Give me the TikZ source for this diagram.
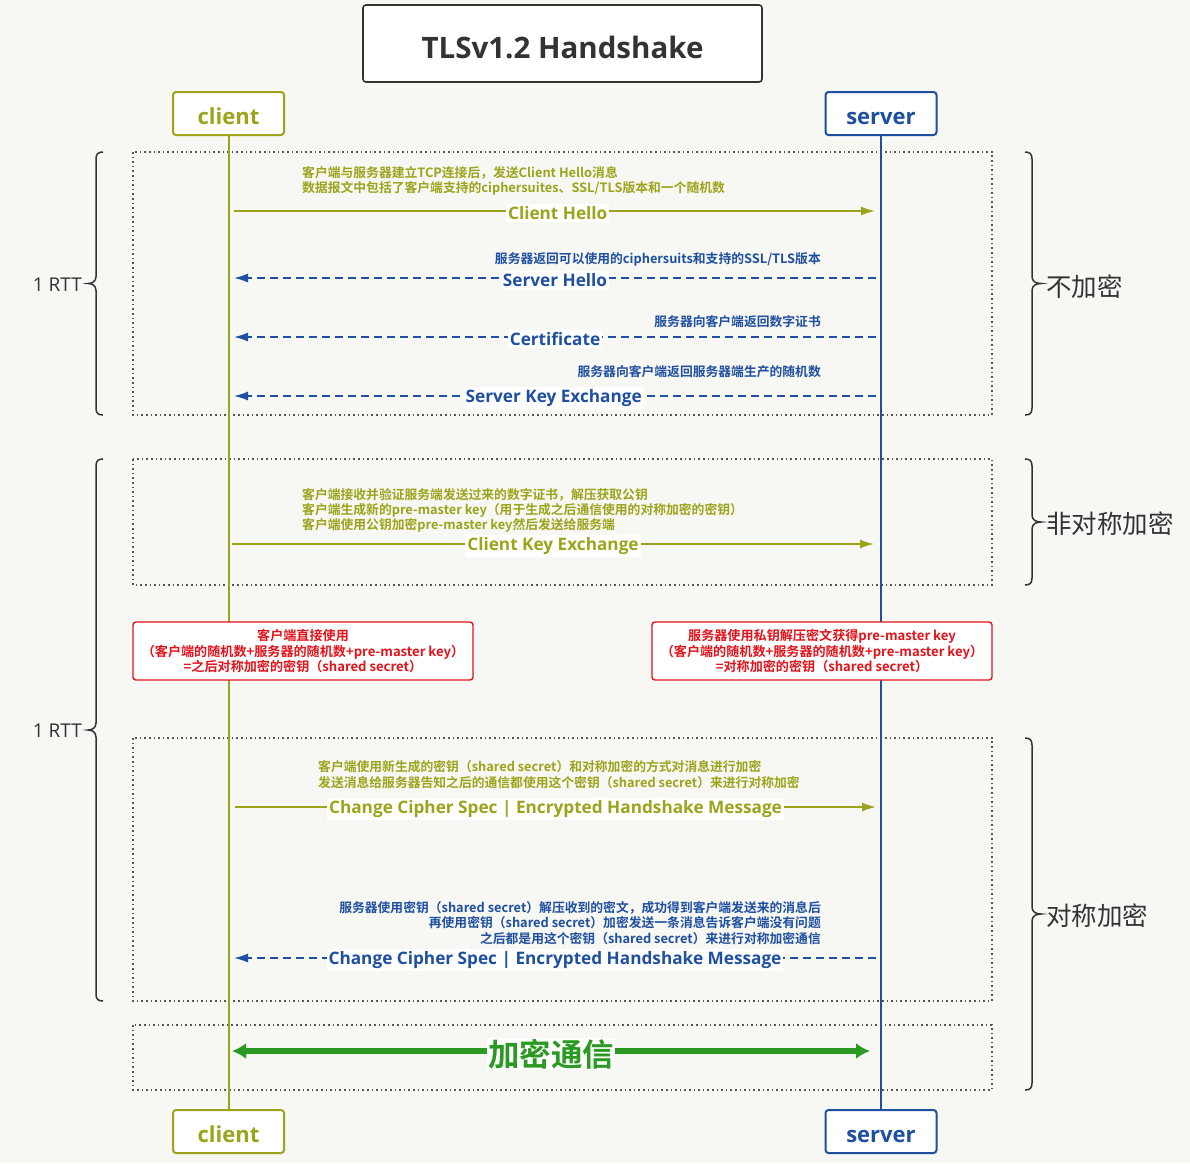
\documentclass[tikz,border=0pt]{standalone}
\usepackage{fontspec}
\setmainfont{Open Sans}
\newfontfamily\cjk{Noto Sans CJK SC}[BoldFont={Noto Sans CJK SC Bold}]
\usetikzlibrary{arrows.meta}
\definecolor{bgc}{HTML}{F7F7F4}
\definecolor{cli}{HTML}{9BA41B}
\definecolor{srv}{HTML}{1F4FA0}
\definecolor{redc}{HTML}{E3131B}
\definecolor{grn}{HTML}{2B9A22}
\definecolor{frm}{HTML}{555555}
\definecolor{ink}{HTML}{333333}
\newcommand{\BrL}[3]{% x of tip, top y, bottom y
  \draw[brc] (#1+15,#2) .. controls (#1+10,#2) and (#1+8,#2+2) .. (#1+8,#2+7)
    -- (#1+8,{(#2+#3)/2-7}) .. controls (#1+8,{(#2+#3)/2-2}) and (#1+4,{(#2+#3)/2}) .. (#1,{(#2+#3)/2})
    .. controls (#1+4,{(#2+#3)/2}) and (#1+8,{(#2+#3)/2+2}) .. (#1+8,{(#2+#3)/2+7})
    -- (#1+8,#3-7) .. controls (#1+8,#3-2) and (#1+10,#3) .. (#1+15,#3);}
\newcommand{\BrR}[3]{% x of tip, top y, bottom y
  \draw[brc] (#1-16,#2) .. controls (#1-11,#2) and (#1-9,#2+2) .. (#1-9,#2+7)
    -- (#1-9,{(#2+#3)/2-7}) .. controls (#1-9,{(#2+#3)/2-2}) and (#1-5,{(#2+#3)/2}) .. (#1,{(#2+#3)/2})
    .. controls (#1-5,{(#2+#3)/2}) and (#1-9,{(#2+#3)/2+2}) .. (#1-9,{(#2+#3)/2+7})
    -- (#1-9,#3-7) .. controls (#1-9,#3-2) and (#1-11,#3) .. (#1-16,#3);}
\tikzset{
  lifebox/.style={draw, line width=2pt, fill=white, rounded corners=3pt, minimum width=111pt, minimum height=43pt, inner sep=0pt, text height=23pt, text depth=1pt, font=\fontsize{22}{26}\selectfont\bfseries},
  clibox/.style={lifebox, draw=cli, text=cli},
  srvbox/.style={lifebox, draw=srv, text=srv},
  titlebox/.style={draw=ink, line width=1.6pt, fill=white, rounded corners=3pt, minimum width=399pt, minimum height=77pt, inner sep=0pt, text height=30pt, text depth=1pt, font=\fontsize{29.5}{34}\selectfont\bfseries, text=ink},
  dotbox/.style={draw=frm, line width=1.6pt, dash pattern=on 1.6pt off 3pt},
  climsg/.style={draw=cli, line width=1.6pt, -{Latex[length=14pt,width=9pt]}},
  srvmsg/.style={draw=srv, line width=1.5pt, dash pattern=on 8pt off 5pt, -{Latex[length=14pt,width=9pt]}},
  lbl/.style={fill=white, inner sep=2pt, yshift=-2pt, font=\fontsize{17.2}{20}\selectfont\bfseries},
  anno/.style={font=\cjk\bfseries\fontsize{12.8}{15.2}\selectfont, inner sep=0pt},
  redbox/.style={draw=redc, line width=1.4pt, fill=white, rounded corners=3pt, minimum width=340pt, minimum height=58pt, text=redc, align=center, inner sep=0pt, font=\cjk\bfseries\fontsize{13.1}{15.5}\selectfont},
  brc/.style={draw=ink, line width=1.5pt},
  side/.style={font=\cjk\fontsize{25.5}{30}\selectfont, text=ink, anchor=west, inner sep=0pt},
  rtt/.style={font=\fontsize{19}{22}\selectfont, text=ink, anchor=east, inner sep=0pt},
  life/.style={line width=2pt},
  bigmsg/.style={draw=grn, line width=6pt, {Latex[length=14pt,width=16pt]}-{Latex[length=14pt,width=16pt]}}
}
\begin{document}
\begin{tikzpicture}[x=1pt,y=-1pt]
\useasboundingbox (0,0) rectangle (1190,1163);
\fill[bgc] (0,0) rectangle (1190,1163);

% frames
\draw[dotbox] (133,152) rectangle (992,415);
\draw[dotbox] (133,459) rectangle (992,585);
\draw[dotbox] (133,738) rectangle (992,1001);
\draw[dotbox] (133,1025) rectangle (992,1090);

% title and participants
\node[titlebox] (title) at (562.5,43.5) {TLSv1.2 Handshake};
\node[clibox] (ct) at (228.5,113.5) {client};
\node[srvbox] (st) at (881,113.5) {server};
\node[clibox] (cb) at (228.5,1131.5) {client};
\node[srvbox] (sb) at (881,1131.5) {server};
\draw[life, cli] (ct.south) -- (cb.north);
\draw[life, srv, line width=1.5pt] (st.south) -- (sb.north);

% red boxes
\node[redbox] (rl) at (303,651) {客户端直接使用\\（客户端的随机数+服务器的随机数+pre-master key）\\=之后对称加密的密钥（shared secret）};
\node[redbox] (rr) at (822,651) {服务器使用私钥解压密文获得pre-master key\\（客户端的随机数+服务器的随机数+pre-master key）\\=对称加密的密钥（shared secret）};

% message endpoints
\coordinate (c1) at (234,211); \coordinate (s1) at (875,211);
\coordinate (c2) at (234,278); \coordinate (s2) at (876,278);
\coordinate (c3) at (234,337); \coordinate (s3) at (876,337);
\coordinate (c4) at (234,396); \coordinate (s4) at (876,396);
\coordinate (c5) at (232,544); \coordinate (s5) at (874,544);
\coordinate (c6) at (235,807); \coordinate (s6) at (876,807);
\coordinate (c7) at (234,958); \coordinate (s7) at (876,958);
\coordinate (c8) at (232,1051); \coordinate (s8) at (870,1051);

% messages
\draw[climsg] (c1) -- node[lbl, text=cli, pos=0.505] (l1) {Client Hello} (s1);
\draw[srvmsg] (s2) -- node[lbl, text=srv, pos=0.5] (l2) {Server Hello} (c2);
\draw[srvmsg] (s3) -- node[lbl, text=srv, pos=0.5] (l3) {Certificate} (c3);
\draw[srvmsg] (s4) -- node[lbl, text=srv, pos=0.502] (l4) {Server Key Exchange} (c4);
\draw[climsg] (c5) -- node[lbl, text=cli, pos=0.5] (l5) {Client Key Exchange} (s5);
\draw[climsg] (c6) -- node[lbl, text=cli, pos=0.5] (l6) {Change Cipher Spec | Encrypted Handshake Message} (s6);
\draw[srvmsg] (s7) -- node[lbl, text=srv, pos=0.5] (l7) {Change Cipher Spec | Encrypted Handshake Message} (c7);
\draw[bigmsg] (c8) -- node[fill=white, inner sep=1pt, yshift=-3pt, text=grn, font=\cjk\bfseries\fontsize{31.5}{35}\selectfont] (l8) {加密通信} (s8);

% annotations
\node[anno, text=cli, anchor=west, align=left] (a1) at (302,181) {客户端与服务器建立TCP连接后，发送Client Hello消息\\数据报文中包括了客户端支持的ciphersuites、SSL/TLS版本和一个随机数};
\node[anno, text=srv, anchor=east, align=right] (a2) at (821,259.5) {服务器返回可以使用的ciphersuits和支持的SSL/TLS版本};
\node[anno, text=srv, anchor=east, align=right] (a3) at (821,321.5) {服务器向客户端返回数字证书};
\node[anno, text=srv, anchor=east, align=right] (a4) at (821,371.5) {服务器向客户端返回服务器端生产的随机数};
\node[anno, text=cli, anchor=west, align=left] (a5) at (302,510.5) {客户端接收并验证服务端发送过来的数字证书，解压获取公钥\\客户端生成新的pre-master key（用于生成之后通信使用的对称加密的密钥）\\客户端使用公钥加密pre-master key然后发送给服务端};
\node[anno, text=cli, anchor=west, align=left] (a6) at (318,774.5) {客户端使用新生成的密钥（shared secret）和对称加密的方式对消息进行加密\\发送消息给服务器告知之后的通信都使用这个密钥（shared secret）来进行对称加密};
\node[anno, text=srv, anchor=east, align=right] (a7) at (821,923) {服务器使用密钥（shared secret）解压收到的密文，成功得到客户端发送来的消息后\\再使用密钥（shared secret）加密发送一条消息告诉客户端没有问题\\之后都是用这个密钥（shared secret）来进行对称加密通信};

% braces
\BrL{88}{152}{415}
\BrL{88}{459}{1001}
\node[rtt] (r1) at (82,285) {1 RTT};
\node[rtt] (r2) at (82,731) {1 RTT};
\BrR{1041}{152}{415}
\BrR{1041}{459}{585}
\BrR{1041}{738}{1090}
\node[side] (t1) at (1046,287) {不加密};
\node[side] (t2) at (1046,524) {非对称加密};
\node[side] (t3) at (1046,916) {对称加密};
\end{tikzpicture}
\end{document}
